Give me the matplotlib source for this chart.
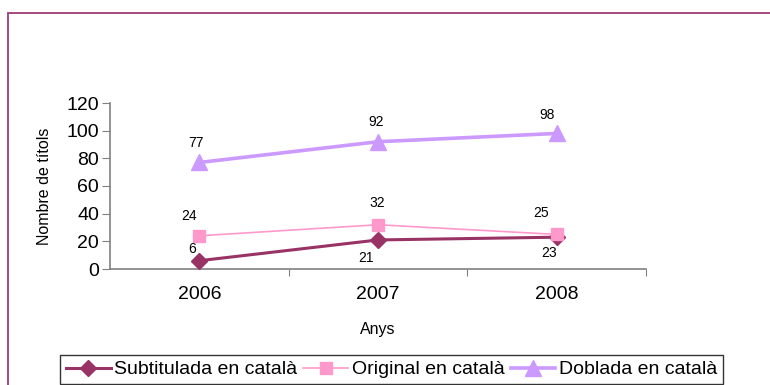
import matplotlib.pyplot as plt
from matplotlib.patches import Rectangle
from matplotlib.lines import Line2D

plt.rcParams["font.family"] = ["Liberation Sans", "DejaVu Sans"]

years = ["2006", "2007", "2008"]
subtitulada = [6, 21, 23]
original = [24, 32, 25]
doblada = [77, 92, 98]
y_ticks = [0, 20, 40, 60, 80, 100, 120]

# label offsets in pixels (dx, dy) for each point
sub_offsets = [(-7, 12), (-12, -18), (-8, -16)]
orig_offsets = [(-10, 20), (-1, 22), (-16, 21)]
dobl_offsets = [(-3, 19), (-2, 20), (-10, 18)]

series = [
    ("Subtitulada en català", subtitulada, "#993366", "D", 2.2, 8, sub_offsets),
    ("Original en català", original, "#FF99CC", "s", 1.2, 9, orig_offsets),
    ("Doblada en català", doblada, "#CC99FF", "^", 2.6, 11, dobl_offsets),
]

fig = plt.figure(figsize=(7.7, 3.85), dpi=100)
ax = fig.add_axes([110 / 770, (385 - 269) / 385, 536 / 770, 166 / 385])

x = list(range(len(years)))
handles = []
for name, values, color, marker, lw, ms, offsets in series:
    ax.plot(x, values, color=color, lw=lw, marker=marker, ms=ms,
            markeredgecolor=color, clip_on=False, zorder=3)
    handles.append(Line2D([], [], color=color, lw=lw, marker=marker,
                          ms=ms, markeredgecolor=color, label=name))
    for xi, v, (dx, dy) in zip(x, values, offsets):
        ax.annotate(str(v), (xi, v), xytext=(dx, dy), textcoords="offset pixels",
                    ha="center", va="center", fontsize=10)

ax.set_xlim(-0.5, 2.5)
ax.set_ylim(0, 120)
ax.set_yticks(y_ticks)
ax.tick_params(axis="y", labelsize=14, length=6, color="#808080", pad=2)

ax.set_xticks([0.5, 1.5, 2.5])
ax.set_xticklabels([])
ax.tick_params(axis="x", which="major", length=5, color="#808080")
ax.set_xticks(x, minor=True)
ax.set_xticklabels(years, minor=True)
ax.tick_params(axis="x", which="minor", length=0, labelsize=14, pad=12)

for side in ("top", "right"):
    ax.spines[side].set_visible(False)
for side in ("left", "bottom"):
    ax.spines[side].set_color("#808080")
    ax.spines[side].set_linewidth(1.2)

ax.set_xlabel("Anys", fontsize=11.5, labelpad=14)
ax.set_ylabel("Nombre de títols", fontsize=11.5, labelpad=10)

# outer frame of the chart area
fig.patches.append(Rectangle((8 / 770, -0.1), 1.0, (385 - 13) / 385 + 0.1,
                             transform=fig.transFigure, fill=False,
                             edgecolor="#A03A78", lw=1.3))

leg = fig.legend(handles=handles, loc="upper left",
                 bbox_to_anchor=(60 / 770, (385 - 355) / 385),
                 ncol=3, fontsize=14, frameon=True, fancybox=False,
                 handlelength=2.3, handletextpad=0.2, columnspacing=0.3,
                 borderpad=0.3, borderaxespad=0)
leg.get_frame().set_edgecolor("black")
leg.get_frame().set_linewidth(1.0)

fig.savefig("out.png", dpi=100)
